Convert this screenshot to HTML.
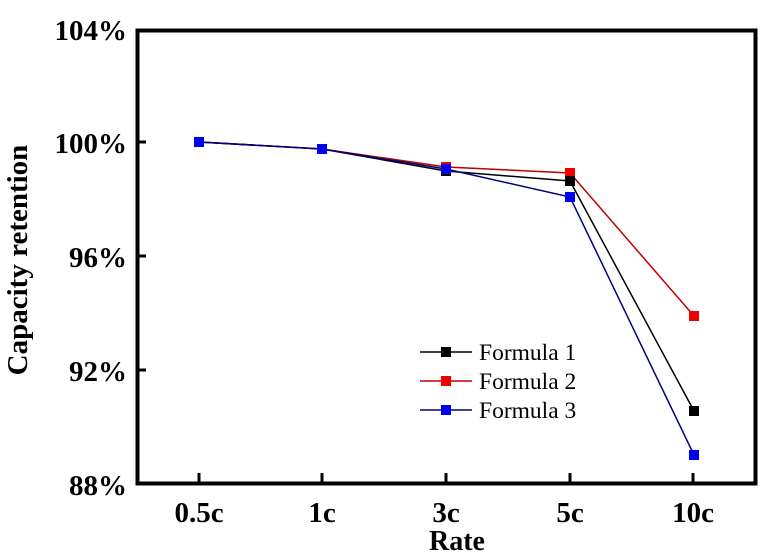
<!DOCTYPE html>
<html><head><meta charset="utf-8"><style>html,body{margin:0;padding:0;background:#fff}svg{display:block}</style></head>
<body>
<svg width="782" height="556" viewBox="0 0 782 556" xmlns="http://www.w3.org/2000/svg" font-family="Liberation Serif, serif">
<rect x="137.5" y="30.5" width="618" height="453" fill="none" stroke="#000" stroke-width="4"/>
<g stroke="#000" stroke-width="3">
<line x1="137" y1="142" x2="146" y2="142"/><line x1="137" y1="256" x2="146" y2="256"/><line x1="137" y1="370" x2="146" y2="370"/>
<line x1="199" y1="483" x2="199" y2="473"/><line x1="322" y1="483" x2="322" y2="473"/><line x1="446" y1="483" x2="446" y2="473"/><line x1="570" y1="483" x2="570" y2="473"/><line x1="693" y1="483" x2="693" y2="473"/>
</g>
<g font-size="29" font-weight="bold" text-anchor="end">
<text x="127" y="40">104%</text><text x="127" y="153">100%</text><text x="127" y="267">96%</text><text x="127" y="381">92%</text><text x="127" y="495">88%</text>
</g>
<g font-size="29" font-weight="bold" text-anchor="middle">
<text x="199" y="522">0.5c</text><text x="322" y="522">1c</text><text x="446" y="522">3c</text><text x="570" y="522">5c</text><text x="693" y="522">10c</text>
<text x="457" y="550" font-size="28">Rate</text>
</g>
<text transform="translate(27,260) rotate(-90)" font-size="29" font-weight="bold" text-anchor="middle">Capacity retention</text>
<g fill="none" stroke-width="1.5">
<polyline stroke="#c00000" points="199,142 322,149 446,167 570,173 694,316"/>
<polyline stroke="#000" points="199,142 322,149 446,171 570,181 694,411"/>
<polyline stroke="#000080" points="199,142 322,149 446,169 570,197 694,455"/>
</g>
<g fill="#ee0000"><rect x="565" y="168" width="10" height="10"/><rect x="689" y="311" width="10" height="10"/><rect x="441" y="162" width="10" height="10"/></g>
<g fill="#000"><rect x="565" y="176" width="10" height="10"/><rect x="689" y="406" width="10" height="10"/><rect x="441" y="166" width="10" height="10"/></g>
<g fill="#0000ee"><rect x="194" y="137" width="10" height="10"/><rect x="317" y="144" width="10" height="10"/><rect x="441" y="164" width="10" height="10"/><rect x="565" y="192" width="10" height="10"/><rect x="689" y="450" width="10" height="10"/></g>
<g stroke-width="1.5">
<line x1="420" y1="352" x2="472" y2="352" stroke="#000"/><rect x="441" y="347" width="10" height="10" fill="#000"/>
<line x1="420" y1="381" x2="472" y2="381" stroke="#c00000"/><rect x="441" y="376" width="10" height="10" fill="#ee0000"/>
<line x1="420" y1="410" x2="472" y2="410" stroke="#000080"/><rect x="441" y="405" width="10" height="10" fill="#0000ee"/>
</g>
<g font-size="23.5">
<text x="479" y="360">Formula 1</text><text x="479" y="389">Formula 2</text><text x="479" y="418">Formula 3</text>
</g>
</svg>
</body></html>
